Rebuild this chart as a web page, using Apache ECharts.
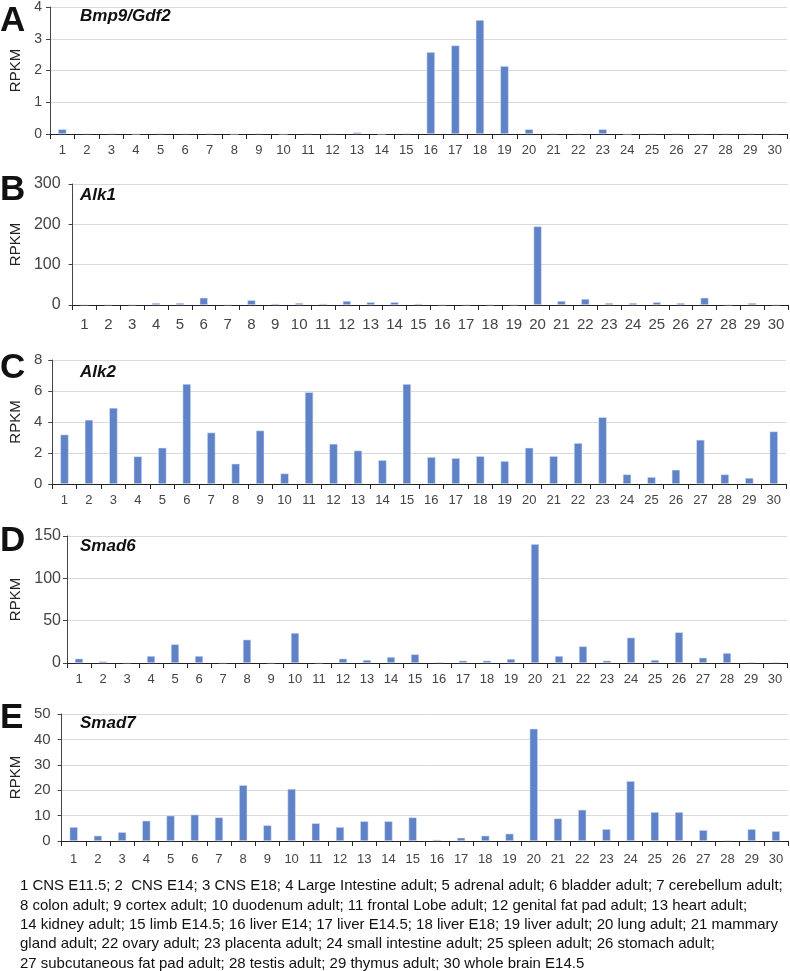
<!DOCTYPE html>
<html><head><meta charset="utf-8">
<script src="https://cdn.jsdelivr.net/npm/echarts@6/dist/echarts.min.js"></script>
<style>html,body{margin:0;padding:0;background:#fff}#c{width:790px;height:971px}</style>
</head><body><div id="c"></div>
<script>
const categories = ['1','2','3','4','5','6','7','8','9','10','11','12','13','14','15','16','17','18','19','20','21','22','23','24','25','26','27','28','29','30'];
const bmp9 = [0.15,0.02,0.02,0,0.02,0.02,0.02,0,0.02,0,0.02,0.02,0.05,0,0.02,2.58,2.79,3.59,2.14,0.15,0.02,0.02,0.15,0,0.02,0.02,0.02,0.02,0.02,0.02];
const alk1 = [1,1,1,5,5,18,1,12,3,5,3,10,7,7,3,1,1,1,1,195,10,15,5,5,7,5,18,1,5,1];
const alk2 = [3.19,4.14,4.91,1.78,2.34,6.45,3.32,1.31,3.45,0.68,5.92,2.59,2.16,1.54,6.45,1.74,1.67,1.80,1.48,2.34,1.80,2.64,4.31,0.62,0.45,0.92,2.85,0.62,0.39,3.39];
const smad6 = [5.2,2,0.5,8.3,22.1,8.3,0.5,27.6,0.5,35.5,0.5,5.2,3.6,7.1,10.3,1,2.8,2.8,4.8,140.5,8.3,19.7,2.8,30,3.6,36.3,6.3,11.8,1,1];
const smad7 = [5.5,2.1,3.5,8.0,10.0,10.4,9.3,22.0,6.2,20.5,7.0,5.5,7.8,7.8,9.3,0.5,1.3,2.1,2.9,44.2,8.9,12.3,4.7,23.6,11.4,11.4,4.3,0.3,4.7,3.9];
const yMax = [4, 300, 8, 150, 50];
const yStep = [1, 100, 2, 50, 10];
const letters = ['A','B','C','D','E'];
const genes = ['Bmp9/Gdf2','Alk1','Alk2','Smad6','Smad7'];
const yTitle = 'RPKM';
const footnoteLines = [
 '1 CNS E11.5; 2  CNS E14; 3 CNS E18; 4 Large Intestine adult; 5 adrenal adult; 6 bladder adult; 7 cerebellum adult;',
 '8 colon adult; 9 cortex adult; 10 duodenum adult; 11 frontal Lobe adult; 12 genital fat pad adult; 13 heart adult;',
 '14 kidney adult; 15 limb E14.5; 16 liver E14; 17 liver E14.5; 18 liver E18; 19 liver adult; 20 lung adult; 21 mammary',
 'gland adult; 22 ovary adult; 23 placenta adult; 24 small intestine adult; 25 spleen adult; 26 stomach adult;',
 '27 subcutaneous fat pad adult; 28 testis adult; 29 thymus adult; 30 whole brain E14.5'
];
const series = [bmp9, alk1, alk2, smad6, smad7];

// layout (positions/sizes only)
const layout = [
 {grid:{left:50,top:5,right:3,height:129}, letterY:21, geneY:16, xFont:13, yFont:14, nameGap:25, xMargin:10, yMargin:8},
 {grid:{left:70,top:184,right:2,height:121}, letterY:190, geneY:195, xFont:15, yFont:16, nameGap:45, xMargin:12, yMargin:12},
 {grid:{left:51,top:360,right:4,height:124}, letterY:368, geneY:372, xFont:13, yFont:15, nameGap:26, xMargin:10, yMargin:10},
 {grid:{left:67,top:536,right:3,height:127}, letterY:541, geneY:546, xFont:13, yFont:16, nameGap:42, xMargin:10, yMargin:6},
 {grid:{left:58,top:714,right:2,height:127}, letterY:718, geneY:723, xFont:13, yFont:15, nameGap:33, xMargin:12, yMargin:11}
];
const FONT = "'Liberation Sans', Arial, sans-serif";
const grids = [], xAxes = [], yAxes = [], sers = [], graphics = [];
layout.forEach((L, i) => {
  grids.push(Object.assign({containLabel:false}, L.grid));
  xAxes.push({type:'category', gridIndex:i, data:categories, boundaryGap:true,
    axisLine:{lineStyle:{color:'#222', width:1}},
    axisTick:{show:true, interval:0, length:5, lineStyle:{color:'#222'}},
    axisLabel:{interval:0, color:'#444', fontSize:L.xFont, fontFamily:FONT, margin:L.xMargin},
    splitLine:{show:false}});
  yAxes.push({type:'value', gridIndex:i, min:0, max:yMax[i], interval:yStep[i],
    name:yTitle, nameLocation:'middle', nameGap:L.nameGap, nameRotate:90,
    nameTextStyle:{color:'#222', fontSize:15, fontFamily:FONT},
    axisLine:{show:true, lineStyle:{color:'#444'}},
    axisTick:{show:true, length:4, lineStyle:{color:'#444'}},
    axisLabel:{color:'#444', fontSize:L.yFont, fontFamily:FONT, margin:L.yMargin},
    splitLine:{show:true, lineStyle:{color:'#d9d9d9', width:1}}});
  sers.push({type:'bar', xAxisIndex:i, yAxisIndex:i, data:series[i], barWidth:'34%',
    itemStyle:{color:'#6082c6', borderColor:'rgba(220,230,250,0.9)', borderWidth:0.6},
    silent:true, animation:false});
  graphics.push({type:'text', x:0, y:L.letterY, style:{text:letters[i], font:"bold 35px "+FONT, fill:'#111', align:'left', verticalAlign:'middle'}});
  graphics.push({type:'text', x:80, y:L.geneY, style:{text:genes[i], font:"italic bold 17px "+FONT, fill:'#111', align:'left', verticalAlign:'middle'}});
});
// footnote: size chosen so the first line spans the same width as in the figure
const cv = document.createElement('canvas').getContext('2d');
cv.font = "100px 'Liberation Sans'";
const w100 = cv.measureText(footnoteLines[0]).width;
const footSize = Math.min(16, 100 * 763 / w100);
const footTop = 886, footStep = 19.4;
footnoteLines.forEach((t, k) => {
  graphics.push({type:'text', x:20, y:footTop + k*footStep, style:{text:t, font:footSize.toFixed(2)+"px "+FONT, fill:'#111', align:'left', verticalAlign:'middle'}});
});
const chart = echarts.init(document.getElementById('c'), null, {renderer:'canvas'});
chart.setOption({animation:false, backgroundColor:'#fff', grid:grids, xAxis:xAxes, yAxis:yAxes, series:sers, graphic:graphics});
</script></body></html>
